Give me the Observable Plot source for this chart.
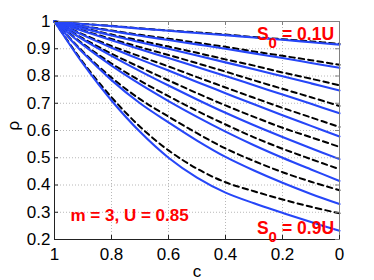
<!DOCTYPE html>
<html>
<head>
<meta charset="utf-8">
<script src="https://cdn.jsdelivr.net/npm/d3@7"></script>
<script src="https://cdn.jsdelivr.net/npm/@observablehq/plot@0.6"></script>
<style>
  html, body { margin: 0; padding: 0; background: #fff; }
</style>
</head>
<body>
<script>
// c values at which curves were read
const cValues = [1, 0.9, 0.8, 0.7, 0.6, 0.5, 0.4, 0.3, 0.2, 0.1, 0];
const seriesNames = ["0.1U","0.2U","0.3U","0.4U","0.5U","0.6U","0.7U","0.8U","0.9U"];

// solid blue curves (rho), S0 = 0.1U ... 0.9U
const solidCurves = [
  [1, 0.991, 0.983, 0.974, 0.966, 0.958, 0.950, 0.941, 0.933, 0.924, 0.915],
  [1, 0.982, 0.965, 0.948, 0.932, 0.916, 0.900, 0.883, 0.866, 0.848, 0.830],
  [1, 0.974, 0.949, 0.924, 0.900, 0.875, 0.850, 0.825, 0.799, 0.773, 0.747],
  [1, 0.965, 0.931, 0.898, 0.866, 0.833, 0.800, 0.766, 0.732, 0.698, 0.663],
  [1, 0.950, 0.904, 0.861, 0.820, 0.778, 0.737, 0.696, 0.656, 0.617, 0.578],
  [1, 0.934, 0.874, 0.818, 0.765, 0.714, 0.665, 0.619, 0.576, 0.535, 0.495],
  [1, 0.914, 0.838, 0.770, 0.708, 0.650, 0.596, 0.546, 0.500, 0.457, 0.415],
  [1, 0.885, 0.785, 0.700, 0.630, 0.563, 0.503, 0.453, 0.408, 0.367, 0.330],
  [1, 0.845, 0.710, 0.595, 0.500, 0.427, 0.372, 0.333, 0.298, 0.264, 0.232]
];

// dashed black curves (rho)
const dashedCurves = [
  [1, 0.991, 0.984, 0.975, 0.967, 0.960, 0.952, 0.943, 0.935, 0.927, 0.918],
  [1, 0.983, 0.967, 0.951, 0.937, 0.922, 0.907, 0.890, 0.874, 0.858, 0.841],
  [1, 0.976, 0.952, 0.930, 0.908, 0.885, 0.861, 0.838, 0.813, 0.790, 0.766],
  [1, 0.967, 0.936, 0.906, 0.877, 0.847, 0.816, 0.784, 0.753, 0.722, 0.690],
  [1, 0.953, 0.910, 0.872, 0.835, 0.796, 0.758, 0.720, 0.683, 0.648, 0.613],
  [1, 0.938, 0.882, 0.832, 0.784, 0.737, 0.692, 0.650, 0.610, 0.575, 0.540],
  [1, 0.918, 0.846, 0.783, 0.726, 0.672, 0.622, 0.575, 0.533, 0.495, 0.458],
  [1, 0.889, 0.794, 0.715, 0.651, 0.590, 0.534, 0.488, 0.447, 0.412, 0.381],
  [1, 0.850, 0.722, 0.614, 0.527, 0.460, 0.410, 0.377, 0.347, 0.320, 0.296]
];

const xTicks = [1, 0.8, 0.6, 0.4, 0.2, 0];
const yTicks = [0.2, 0.3, 0.4, 0.5, 0.6, 0.7, 0.8, 0.9, 1];
const xLabel = "c";
const yLabel = "ρ";
const topNote = ["S", "0", "= 0.1U"];
const bottomNote = ["S", "0", "= 0.9U"];
const paramNote = "m = 3, U = 0.85";

function toLong(curves) {
  const out = [];
  curves.forEach((arr, i) => arr.forEach((r, j) => out.push({c: cValues[j], rho: r, s: seriesNames[i]})));
  return out;
}
const solidData = toLong(solidCurves);
const dashedData = toLong(dashedCurves);

const fmt = d => String(+d.toFixed(1));
const W = 374, H = 280, ML = 54, MR = 35, MT = 21, MB = 41;
const PW = W - ML - MR, PH = H - MT - MB;

const red = {fill: "#ff0000", fontWeight: "bold", textAnchor: "start", lineAnchor: "bottom", frameAnchor: "top-left", text: d => d};
function note(parts, baseY, x0) {
  return [
    Plot.text([parts[0]], {...red, fontSize: 17.5, dx: x0 - ML, dy: baseY - MT}),
    Plot.text([parts[1]], {...red, fontSize: 15, dx: x0 + 11.5 - ML, dy: baseY + 8.5 - MT}),
    Plot.text([parts[2]], {...red, fontSize: 17.5, dx: x0 + 25 - ML, dy: baseY - MT})
  ];
}

const chart = Plot.plot({
  width: W, height: H,
  marginLeft: ML, marginRight: MR, marginTop: MT, marginBottom: MB,
  style: {fontFamily: "'Liberation Sans', Arial, sans-serif", fontSize: "17px", color: "#000", background: "#fff", overflow: "visible"},
  x: {domain: [1, 0]},
  y: {domain: [0.2, 1]},
  marks: [
    Plot.gridX({ticks: xTicks, stroke: "#b8b8b8", strokeOpacity: 1, strokeDasharray: "1,2"}),
    Plot.gridY({ticks: yTicks, stroke: "#b8b8b8", strokeOpacity: 1, strokeDasharray: "1,2"}),
    Plot.line(dashedData, {x: "c", y: "rho", z: "s", stroke: "#000", strokeWidth: 2, strokeDasharray: "5.5,4", curve: "catmull-rom"}),
    Plot.line(solidData, {x: "c", y: "rho", z: "s", stroke: "#2646f8", strokeWidth: 2.1, curve: "catmull-rom"}),
    Plot.frame({stroke: "#808080"}),
    Plot.ruleX([1], {stroke: "#222"}),
    Plot.ruleY([0.2], {stroke: "#222"}),
    Plot.tickX(xTicks, {x: d => d, insetTop: PH - 4, stroke: "#222"}),
    Plot.tickX(xTicks, {x: d => d, insetBottom: PH - 4, stroke: "#808080"}),
    Plot.tickY(yTicks, {y: d => d, insetRight: PW - 4, stroke: "#222"}),
    Plot.tickY(yTicks, {y: d => d, insetLeft: PW - 4, stroke: "#808080"}),
    Plot.axisX({ticks: xTicks, tickSize: 0, tickPadding: 8, tickFormat: fmt, label: null}),
    Plot.axisY({ticks: yTicks, tickSize: 0, tickPadding: 4, tickFormat: fmt, label: null}),
    Plot.text([xLabel], {frameAnchor: "bottom", dy: 37.5, lineAnchor: "bottom", text: d => d, fontSize: 17}),
    Plot.text([yLabel], {frameAnchor: "left", dx: -41, rotate: -90, lineAnchor: "middle", text: d => d, fontSize: 17}),
    ...note(topNote, 39.3, 256.5),
    ...note(bottomNote, 233.3, 256.5),
    Plot.text([paramNote], {...red, fontSize: 17, dx: 70 - ML, dy: 220 - MT})
  ]
});
document.body.appendChild(chart);
</script>
</body>
</html>
